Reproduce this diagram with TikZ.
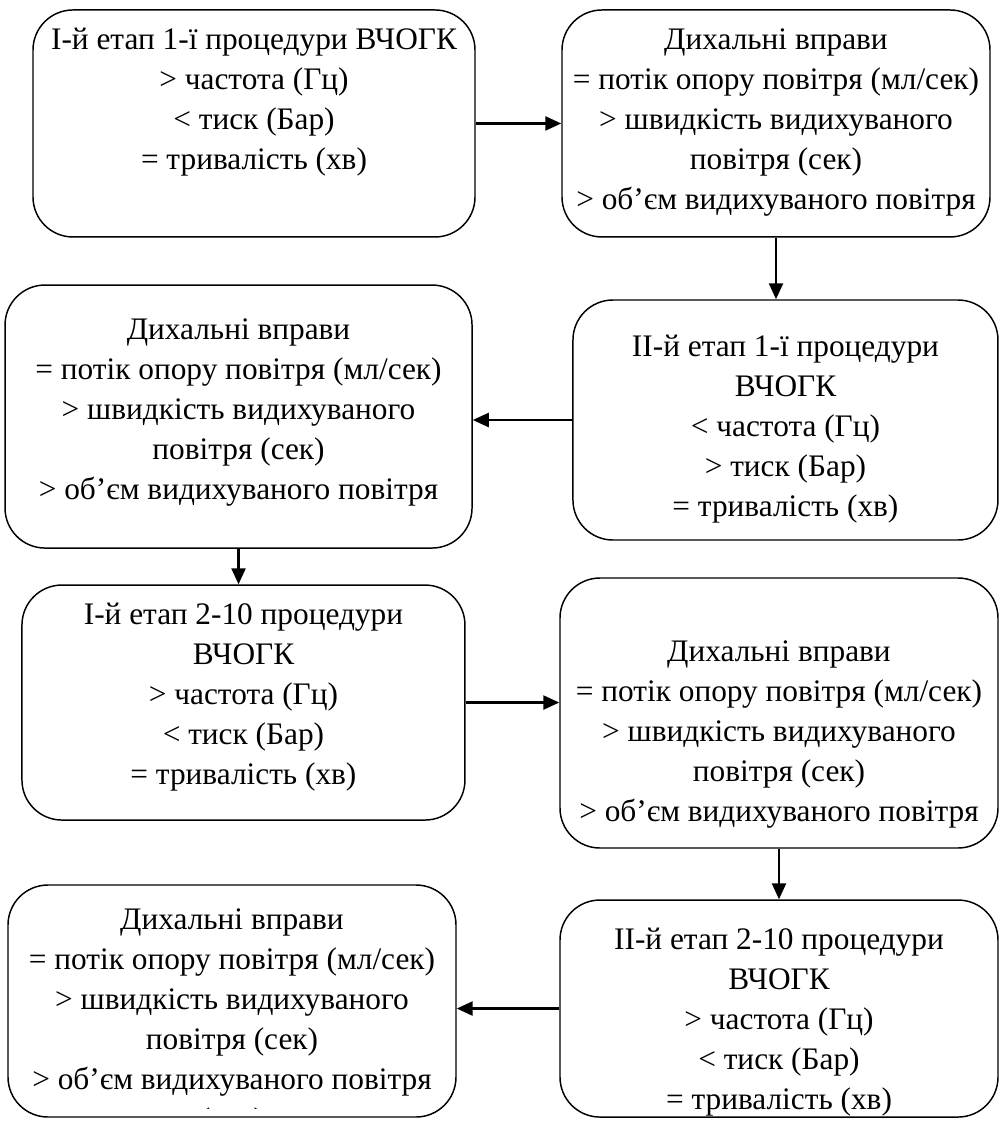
\documentclass[tikz,border=0pt]{standalone}
\usepackage{fontspec}
\setmainfont{Liberation Serif}
\usepackage{tikz}
\usetikzlibrary{arrows.meta, positioning}

\begin{document}
\begin{tikzpicture}[
  stage/.style={rectangle, rounded corners=30pt, draw, line width=1.1pt,
                inner sep=0pt},
  txt/.style={anchor=north, align=center, inner sep=0pt,
              font=\fontsize{23.5pt}{30pt}\selectfont},
  arrow/.style={-{Triangle[length=12pt,width=10.5pt]}, line width=1.8pt}
]
\useasboundingbox (0,0) rectangle (750.75pt,-841.5pt);

% boxes
\node[stage, minimum width=331.5pt, minimum height=170.25pt] (s1) at (190.5pt,-92.6pt) {};
\node[stage, minimum width=321pt, minimum height=170.25pt] (s2) at (582pt,-92.6pt) {};
\node[stage, minimum width=318.75pt, minimum height=180pt] (s3) at (589.1pt,-315pt) {};
\node[stage, minimum width=350.25pt, minimum height=197.25pt] (s4) at (178.9pt,-312.4pt) {};
\node[stage, minimum width=332.25pt, minimum height=176.25pt] (s5) at (182.6pt,-526.9pt) {};
\node[stage, minimum width=328.5pt, minimum height=202.5pt] (s6) at (584.25pt,-534.75pt) {};
\node[stage, minimum width=328.5pt, minimum height=162.75pt] (s7) at (584.25pt,-756.4pt) {};
\node[stage, minimum width=336pt, minimum height=174pt] (s8) at (174pt,-750.75pt) {};

% texts
\node[txt] (t1) at (190.5pt,-21pt) {І-й етап 1-ї процедури ВЧОГК\\> частота (Гц)\\< тиск (Бар)\\= тривалість (хв)};
\node[txt] (t2) at (582pt,-21pt) {Дихальні вправи\\= потік опору повітря (мл/сек)\\> швидкість видихуваного\\повітря (сек)\\> об’єм видихуваного повітря};
\node[txt] (t3) at (589.1pt,-251.25pt) {ІІ-й етап 1-ї процедури\\ВЧОГК\\< частота (Гц)\\> тиск (Бар)\\= тривалість (хв)};
\node[txt] (t4) at (178.9pt,-238.5pt) {Дихальні вправи\\= потік опору повітря (мл/сек)\\> швидкість видихуваного\\повітря (сек)\\> об’єм видихуваного повітря};
\node[txt] (t5) at (182.6pt,-452.25pt) {І-й етап 2-10 процедури\\ВЧОГК\\> частота (Гц)\\< тиск (Бар)\\= тривалість (хв)};
\node[txt] (t6) at (584.25pt,-480pt) {Дихальні вправи\\= потік опору повітря (мл/сек)\\> швидкість видихуваного\\повітря (сек)\\> об’єм видихуваного повітря};
\node[txt] (t7) at (584.25pt,-696pt) {ІІ-й етап 2-10 процедури\\ВЧОГК\\> частота (Гц)\\< тиск (Бар)\\= тривалість (хв)};
\begin{scope}
  \clip (0,0) rectangle (750.75pt,-831pt);
  \node[txt] (t8) at (174pt,-681pt) {Дихальні вправи\\= потік опору повітря (мл/сек)\\> швидкість видихуваного\\повітря (сек)\\> об’єм видихуваного повітря\\(сек)};
\end{scope}

% arrows
\draw[arrow] (s1.east) -- (s1.east -| s2.west);
\draw[arrow] (s2.south) -- (s2.south |- s3.north);
\draw[arrow] (s3.west) -- (s3.west -| s4.east);
\draw[arrow] (s4.south) -- (s4.south |- s5.north);
\draw[arrow] (s5.east) -- (s5.east -| s6.west);
\draw[arrow] (s6.south) -- (s6.south |- s7.north);
\draw[arrow] (s7.west) -- (s7.west -| s8.east);
\end{tikzpicture}
\end{document}
